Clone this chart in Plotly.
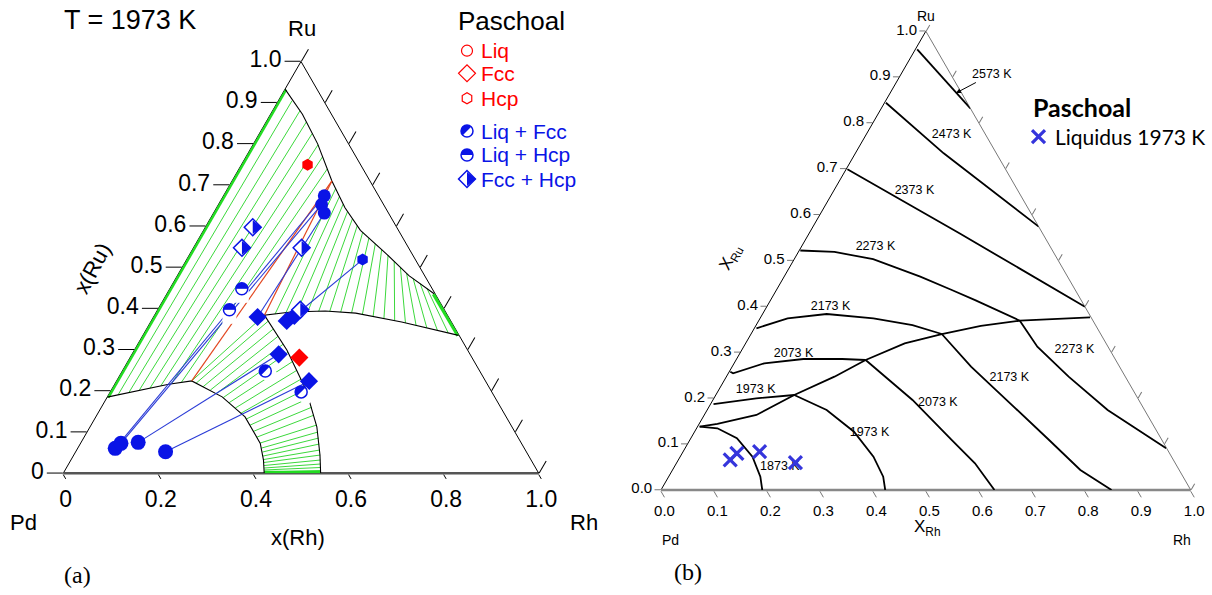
import plotly.graph_objects as go

W, H = 1212, 595
SANS = "Liberation Sans, Arial, sans-serif"
SERIF = "Liberation Serif, Times New Roman, serif"
LATO = "Lato, Open Sans, sans-serif"

BLUE = "#0a14e6"
BLUE_LINE = "#2a3bd6"
RED = "#ff0000"
RED_LINE = "#e2461f"
GREEN = "#3cd83c"
XBLUE = "#3535dc"

# ======================= Panel (a): calculated section at 1973 K (x_Rh, x_Ru) =======================
hcp_bnd_rh = [0.0, 0.067, 0.135, 0.21, 0.27, 0.33, 0.413, 0.487, 0.562]
hcp_bnd_ru = [0.933, 0.872, 0.80, 0.71, 0.645, 0.59, 0.533, 0.48, 0.436]
liq_bnd_rh = [0.0, 0.1136, 0.158, 0.2414, 0.3138, 0.378, 0.405, 0.4226]
liq_bnd_ru = [0.185, 0.2164, 0.2244, 0.1856, 0.137, 0.0727, 0.0322, 0.0]
fcc_bnd_rh = [0.664, 0.528, 0.4206, 0.354, 0.283, 0.231, 0.3212, 0.41, 0.4768, 0.5177, 0.5413]
fcc_bnd_ru = [0.335, 0.3673, 0.389, 0.394, 0.3916, 0.384, 0.2988, 0.2018, 0.113, 0.0444, 0.0]

# three-phase triangle Liq / Fcc / Hcp
tri_rh = [0.158, 0.231, 0.21]
tri_ru = [0.2244, 0.384, 0.71]

# tie lines Liq + Hcp
tl_lh_liq_rh = [0.020, 0.040, 0.059, 0.079, 0.099, 0.1185, 0.138]
tl_lh_liq_ru = [0.1905, 0.196, 0.2013, 0.2068, 0.2123, 0.2172, 0.2208]
tl_lh_hcp_rh = [0.0288, 0.0576, 0.0847, 0.111, 0.137, 0.161, 0.1857]
tl_lh_hcp_ru = [0.905, 0.880, 0.853, 0.825, 0.7975, 0.768, 0.739]

# tie lines Fcc + Hcp
tl_fh_fcc_rh = [0.252, 0.2732, 0.2954, 0.3181, 0.3405, 0.3638, 0.3877, 0.4115, 0.4362, 0.4612,
                0.4865, 0.5116, 0.5371, 0.5625, 0.5881, 0.6135, 0.6389]
tl_fh_fcc_ru = [0.3867, 0.3901, 0.3921, 0.3928, 0.3935, 0.3933, 0.3916, 0.3899, 0.386, 0.3809,
                0.3758, 0.3707, 0.3652, 0.3591, 0.353, 0.347, 0.3412]
tl_fh_hcp_rh = [0.2273, 0.2448, 0.2619, 0.2801, 0.299, 0.3176, 0.3371, 0.3573, 0.3776, 0.398,
                0.4184, 0.4387, 0.459, 0.4792, 0.4997, 0.5205, 0.5412]
tl_fh_hcp_ru = [0.6913, 0.6724, 0.6537, 0.6358, 0.6186, 0.6014, 0.5852, 0.5711, 0.5573, 0.5433,
                0.5292, 0.5147, 0.5001, 0.4856, 0.4725, 0.4604, 0.448]

# tie lines Liq + Fcc
tl_lf_liq_rh = [0.158, 0.170, 0.189, 0.2082, 0.225, 0.2445, 0.2631, 0.2824, 0.301, 0.3188, 0.3345, 0.3502,
                0.3637, 0.3773, 0.3864, 0.3934, 0.3993, 0.4046, 0.4089, 0.4129, 0.416, 0.4186, 0.421]
tl_lf_liq_ru = [0.2244, 0.2188, 0.2103, 0.2018, 0.1934, 0.1837, 0.1716, 0.1582, 0.1461, 0.1316, 0.117, 0.1025,
                0.088, 0.0734, 0.0613, 0.0516, 0.0419, 0.0334, 0.0262, 0.0189, 0.0128, 0.008, 0.0031]
tl_lf_fcc_rh = [0.231, 0.246, 0.266, 0.2854, 0.3056, 0.3257, 0.3472, 0.3664, 0.3857, 0.4084, 0.4256, 0.4428,
                0.4567, 0.474, 0.4853, 0.4943, 0.5029, 0.5112, 0.5181, 0.5246, 0.5296, 0.5341, 0.5379]
tl_lf_fcc_ru = [0.384, 0.369, 0.3497, 0.3327, 0.3133, 0.2939, 0.2721, 0.2503, 0.2285, 0.2043, 0.1825, 0.1607,
                0.1413, 0.117, 0.1001, 0.0855, 0.071, 0.0565, 0.0443, 0.0322, 0.0225, 0.0141, 0.0068]

# binary-edge two-phase segments (dense tie lines on the edges)
edge_tl_rh1 = [0.0, 0.664, 0.4226]
edge_tl_ru1 = [0.185, 0.335, 0.0]
edge_tl_rh2 = [0.0, 0.562, 0.5413]
edge_tl_ru2 = [0.933, 0.436, 0.0]

# ---- Paschoal experimental points ----
exp_liq_rh = [0.079, 0.085, 0.12, 0.189]
exp_liq_ru = [0.0606, 0.0727, 0.0751, 0.0523]
exp_hcp_rh = [0.212, 0.217, 0.233]
exp_hcp_ru = [0.674, 0.6525, 0.632]
exp_hcp2_rh = [0.370]
exp_hcp2_ru = [0.519]
exp_fcc_rh = [0.219, 0.285, 0.295, 0.3085, 0.405]
exp_fcc_ru = [0.3795, 0.370, 0.382, 0.289, 0.2236]
bulk_lf_rh = [0.3006, 0.4015]
bulk_lf_ru = [0.2486, 0.1977]
bulk_lh_rh = [0.151, 0.1515]
bulk_lh_ru = [0.397, 0.448]
bulk_fh_rh = [0.0997, 0.102, 0.2275, 0.300]
bulk_fh_ru = [0.5976, 0.5476, 0.5476, 0.397]
red_hcp_rh = [0.139]
red_hcp_ru = [0.7495]
red_fcc_rh = [0.356]
red_fcc_ru = [0.281]
exp_tl_rh1 = [0.079, 0.085, 0.12, 0.189, 0.219, 0.295]
exp_tl_ru1 = [0.0606, 0.0727, 0.0751, 0.0523, 0.3795, 0.382]
exp_tl_rh2 = [0.212, 0.217, 0.3085, 0.405, 0.233, 0.370]
exp_tl_ru2 = [0.674, 0.6525, 0.289, 0.2236, 0.632, 0.519]

ticks_a_left_vals = [0, 0.1, 0.2, 0.3, 0.4, 0.5, 0.6, 0.7, 0.8, 0.9, 1.0]
ticks_a_left_text = ["0", "0.1", "0.2", "0.3", "0.4", "0.5", "0.6", "0.7", "0.8", "0.9", "1.0"]
ticks_a_bot_vals = [0, 0.2, 0.4, 0.6, 0.8, 1.0]            # x(Pd) along the bottom edge
ticks_a_bot_text = ["1.0", "0.8", "0.6", "0.4", "0.2", "0"]  # shown as x(Rh)
legend_a_text = ["Liq", "Fcc", "Hcp", "Liq + Fcc", "Liq + Hcp", "Fcc + Hcp"]

# ======================= Panel (b): liquidus projection =======================
iso_2573_rh = [0.0034, 0.168]
iso_2573_ru = [0.9605, 0.832]
iso_2473_rh = [0.0026, 0.1668, 0.426]
iso_2473_ru = [0.844, 0.7338, 0.574]
iso_2373_rh = [0.0024, 0.2836, 0.6005]
iso_2373_ru = [0.699, 0.5595, 0.3995]
iso_2273u_rh = [0.002, 0.068, 0.149, 0.257, 0.331, 0.386, 0.4929]
iso_2273u_ru = [0.522, 0.519, 0.503, 0.465, 0.436, 0.414, 0.369]
valley_rh = [0.004, 0.0346, 0.0985, 0.148, 0.204, 0.2447, 0.3002, 0.3601, 0.4251, 0.4929, 0.6217]
valley_ru = [0.138, 0.1439, 0.1635, 0.2071, 0.247, 0.2833, 0.3197, 0.34, 0.3575, 0.369, 0.3764]
iso_2173u_rh = [0.004, 0.052, 0.121, 0.214, 0.295, 0.3601]
iso_2173u_ru = [0.3524, 0.3742, 0.3836, 0.3742, 0.3596, 0.34]
iso_2073u_rh = [0.002, 0.009, 0.057, 0.126, 0.1995, 0.2447]
iso_2073u_ru = [0.2578, 0.2543, 0.2761, 0.2855, 0.2855, 0.2833]
iso_1973u_rh = [0.0055, 0.080, 0.148]
iso_1973u_ru = [0.1874, 0.1998, 0.2071]
iso_1873_rh = [0.004, 0.0393, 0.087, 0.1364, 0.1731, 0.1912]
iso_1873_ru = [0.138, 0.1345, 0.1127, 0.0726, 0.029, 0.0]
iso_1973l_rh = [0.148, 0.2256, 0.3008, 0.3648, 0.405, 0.4233]
iso_1973l_ru = [0.2071, 0.1744, 0.1271, 0.0726, 0.029, 0.0]
iso_2073l_rh = [0.2447, 0.3767, 0.4941, 0.5636, 0.6295]
iso_2073l_ru = [0.2833, 0.1962, 0.109, 0.0582, 0.0]
iso_2173l_rh = [0.3601, 0.4509, 0.5646, 0.6781, 0.7698, 0.8505]
iso_2173l_ru = [0.34, 0.2688, 0.189, 0.109, 0.0436, 0.0]
iso_2273l_rh = [0.4929, 0.5543, 0.646, 0.7559, 0.9081]
iso_2273l_ru = [0.369, 0.3123, 0.247, 0.1744, 0.0909]

iso_label_text = ["2473 K", "2373 K", "2273 K", "2173 K", "2073 K", "1973 K", "1873 K",
                  "1973 K", "2073 K", "2173 K", "2273 K"]
iso_label_rh = [0.1617, 0.1524, 0.1404, 0.1204, 0.102, 0.0698, 0.1997, 0.3313, 0.4282, 0.5351, 0.6279]
iso_label_ru = [0.7738, 0.6523, 0.529, 0.3995, 0.2964, 0.218, 0.0495, 0.1249, 0.189, 0.2448, 0.3051]

liquidus_rh = [0.098, 0.1033, 0.1444, 0.224]
liquidus_ru = [0.0654, 0.08, 0.0835, 0.0595]

ticks_b_vals = [0, 0.1, 0.2, 0.3, 0.4, 0.5, 0.6, 0.7, 0.8, 0.9, 1.0]
ticks_b_left_text = ["0.0", "0.1", "0.2", "0.3", "0.4", "0.5", "0.6", "0.7", "0.8", "0.9", "1.0"]
ticks_b_bot_text = ["1.0", "0.9", "0.8", "0.7", "0.6", "0.5", "0.4", "0.3", "0.2", "0.1", "0.0"]


# ======================= helpers =======================
def tern(rh, ru):
    b = [None if (h is None or u is None) else 1.0 - h - u for h, u in zip(rh, ru)]
    return dict(a=list(ru), b=b, c=list(rh))


def segs(rh1, ru1, rh2, ru2):
    RH, RU = [], []
    for p, q, r, s in zip(rh1, ru1, rh2, ru2):
        RH += [p, r, None]
        RU += [q, s, None]
    return RH, RU


def line_tr(rh, ru, color, width, sub, clip=True):
    return go.Scatterternary(**tern(rh, ru), mode="lines", line=dict(color=color, width=width),
                             subplot=sub, hoverinfo="skip", showlegend=False, cliponaxis=clip)


def make_tern(sub):
    def f(coords, marker):
        rh, ru = coords
        return go.Scatterternary(**tern(rh, ru), mode="markers", marker=marker, subplot=sub,
                                 cliponaxis=False, hoverinfo="skip", showlegend=False)
    return f


def make_cart(coords, marker):
    x, y = coords
    return go.Scatter(x=x, y=y, mode="markers", marker=marker, xaxis="x", yaxis="y",
                      cliponaxis=False, hoverinfo="skip", showlegend=False)


def half_circle(make, coords, size, cover_angle, color):
    return [
        make(coords, dict(symbol="circle", size=size, color=color, line=dict(width=0))),
        make(coords, dict(symbol="square", size=size + 2, color="white", angle=cover_angle,
                          standoff=(size + 2) / 2, line=dict(width=0))),
        make(coords, dict(symbol="circle-open", size=size, color=color, line=dict(width=1.5, color=color))),
    ]


def half_diamond(make, coords, size, color):
    t = 0.92 * size
    return [
        make(coords, dict(symbol="diamond", size=size, color="white", line=dict(width=1.5, color=color))),
        make(coords, dict(symbol="triangle-down", size=t, color=color, angle=270, standoff=t / 4,
                          line=dict(width=0))),
    ]


traces = []
SA = "ternary"
SB = "ternary2"
ta = make_tern(SA)
tb = make_tern(SB)

# ---- panel (a) tie lines ----
for fam in [(tl_lh_liq_rh, tl_lh_liq_ru, tl_lh_hcp_rh, tl_lh_hcp_ru),
            (tl_fh_fcc_rh, tl_fh_fcc_ru, tl_fh_hcp_rh, tl_fh_hcp_ru),
            (tl_lf_liq_rh, tl_lf_liq_ru, tl_lf_fcc_rh, tl_lf_fcc_ru)]:
    rh, ru = segs(*fam)
    traces.append(line_tr(rh, ru, GREEN, 1, SA))
rh, ru = segs(edge_tl_rh1, edge_tl_ru1, edge_tl_rh2, edge_tl_ru2)
traces.append(line_tr(rh, ru, "#22dd22", 5, SA, clip=False))

# ---- panel (a) phase boundaries ----
for rh, ru in [(hcp_bnd_rh, hcp_bnd_ru), (liq_bnd_rh, liq_bnd_ru), (fcc_bnd_rh, fcc_bnd_ru)]:
    traces.append(line_tr(rh, ru, "black", 1.1, SA))
rh, ru = segs([tri_rh[0], tri_rh[1]], [tri_ru[0], tri_ru[1]], [tri_rh[2], tri_rh[2]], [tri_ru[2], tri_ru[2]])
traces.append(line_tr(rh, ru, RED_LINE, 1.2, SA))

# ---- panel (a) experimental tie lines + points ----
rh, ru = segs(exp_tl_rh1, exp_tl_ru1, exp_tl_rh2, exp_tl_ru2)
traces.append(line_tr(rh, ru, BLUE_LINE, 1.1, SA))
traces.append(ta((exp_liq_rh, exp_liq_ru), dict(symbol="circle", size=15, color=BLUE)))
traces.append(ta((exp_hcp_rh, exp_hcp_ru), dict(symbol="circle", size=13, color=BLUE)))
traces.append(ta((exp_hcp2_rh, exp_hcp2_ru), dict(symbol="hexagon", size=12, color=BLUE)))
traces.append(ta((exp_fcc_rh, exp_fcc_ru), dict(symbol="diamond", size=14, color=BLUE)))
traces += half_circle(ta, (bulk_lf_rh, bulk_lf_ru), 12, 315, BLUE)
traces += half_circle(ta, (bulk_lh_rh, bulk_lh_ru), 12, 0, BLUE)
traces += half_diamond(ta, (bulk_fh_rh, bulk_fh_ru), 13, BLUE)
traces.append(ta((red_hcp_rh, red_hcp_ru), dict(symbol="hexagon", size=12, color=RED)))
traces.append(ta((red_fcc_rh, red_fcc_ru), dict(symbol="diamond", size=14, color=RED)))

# ---- panel (a) legend keys (positioned in page pixels on a hidden helper axis) ----
leg_x = 467
leg_rows = [50.7, 73.3, 98.3, 131, 155, 179]
traces.append(make_cart(([leg_x], [leg_rows[0]]), dict(symbol="circle-open", size=11, color=RED, line=dict(width=1.2))))
traces.append(make_cart(([leg_x], [leg_rows[1]]), dict(symbol="diamond-open", size=13, color=RED, line=dict(width=1.2))))
traces.append(make_cart(([leg_x], [leg_rows[2]]), dict(symbol="hexagon-open", size=11, color=RED, line=dict(width=1.2))))
traces += half_circle(make_cart, ([leg_x], [leg_rows[3]]), 12, 315, BLUE)
traces += half_circle(make_cart, ([leg_x], [leg_rows[4]]), 12, 0, BLUE)
traces += half_diamond(make_cart, ([leg_x], [leg_rows[5]]), 13, BLUE)

# ---- panel (b) isotherms ----
for rh, ru in [(iso_2573_rh, iso_2573_ru), (iso_2473_rh, iso_2473_ru), (iso_2373_rh, iso_2373_ru),
               (iso_2273u_rh, iso_2273u_ru), (valley_rh, valley_ru), (iso_2173u_rh, iso_2173u_ru),
               (iso_2073u_rh, iso_2073u_ru), (iso_1973u_rh, iso_1973u_ru), (iso_1873_rh, iso_1873_ru),
               (iso_1973l_rh, iso_1973l_ru), (iso_2073l_rh, iso_2073l_ru), (iso_2173l_rh, iso_2173l_ru),
               (iso_2273l_rh, iso_2273l_ru)]:
    traces.append(line_tr(rh, ru, "black", 1.8, SB))
traces.append(go.Scatterternary(**tern(iso_label_rh, iso_label_ru), mode="text", text=iso_label_text,
                                textfont=dict(family=SANS, size=12.5, color="black"), subplot=SB,
                                cliponaxis=False, hoverinfo="skip", showlegend=False))
xmark = dict(symbol="x-thin-open", size=13, color=XBLUE, line=dict(width=3.2, color=XBLUE))
traces.append(tb((liquidus_rh, liquidus_ru), xmark))
traces.append(make_cart(([1038.5], [136.7]), xmark))


def axis(vals, text, size, ticklen, show_labels=True, linecolor="black", linewidth=1, tickcolor="black"):
    return dict(tickmode="array", tickvals=vals, ticktext=text, showticklabels=show_labels,
                ticks="outside", ticklen=ticklen, tickwidth=1, tickcolor=tickcolor,
                tickfont=dict(family=SANS, size=size, color="black"),
                showline=True, linecolor=linecolor, linewidth=linewidth, showgrid=False,
                layer="below traces", title=dict(text=""))


def ann(text, X, Y, size, family=SANS, color="black", xanchor="center", angle=0):
    return dict(text=text, x=X / W, y=1 - Y / H, xref="paper", yref="paper", showarrow=False,
                font=dict(family=family, size=size, color=color), xanchor=xanchor, yanchor="middle",
                textangle=angle)


annotations = [
    ann("T = 1973 K", 130, 20, 27),
    ann("Ru", 302, 28, 22),
    ann("Pd", 23, 522, 22),
    ann("Rh", 584, 522, 22),
    ann("x(Rh)", 298, 537, 22),
    ann("x(Ru)", 92, 268, 22, angle=-62),
    ann("(a)", 77, 575, 24, family=SERIF),
    ann("Paschoal", 511, 21, 26),
]
leg_colors = [RED, RED, RED, BLUE, BLUE, BLUE]
for txt, yrow, col in zip(legend_a_text, leg_rows, leg_colors):
    annotations.append(ann(txt, 479, yrow, 21, color=col, xanchor="left"))
annotations += [
    ann("Ru", 926, 16, 14),
    ann("Pd", 670, 540, 14),
    ann("Rh", 1182, 540, 14),
    ann("X<sub>Ru</sub>", 731, 258, 17, angle=-62),
    ann("X<sub>Rh</sub>", 927, 528, 17),
    ann("(b)", 688, 572, 24, family=SERIF),
    ann("<b>Paschoal</b>", 1031, 107, 25, family=LATO, xanchor="left"),
    ann("Liquidus 1973 K", 1053, 137, 21, family=LATO, xanchor="left"),
    dict(text="2573 K", x=956 / W, y=1 - 93 / H, xref="paper", yref="paper", showarrow=True,
         ax=36, ay=-19, arrowhead=2, arrowsize=1, arrowwidth=1, arrowcolor="black",
         font=dict(family=SANS, size=12.5, color="black")),
]

fig = go.Figure(data=traces)
fig.update_layout(
    template="none",
    width=W, height=H,
    margin=dict(l=0, r=0, t=0, b=0),
    paper_bgcolor="white", plot_bgcolor="rgba(0,0,0,0)",
    showlegend=False,
    xaxis=dict(domain=[0, 1], range=[0, W], visible=False, fixedrange=True),
    yaxis=dict(domain=[0, 1], range=[H, 0], visible=False, fixedrange=True),
    ternary=dict(
        domain=dict(x=[62.7 / W, 539.3 / W], y=[1 - 473.3 / H, 1 - 61.5 / H]),
        sum=1, bgcolor="white",
        aaxis=axis(ticks_a_left_vals, ticks_a_left_text, 23, 16),
        baxis=axis(ticks_a_bot_vals, ticks_a_bot_text, 23, 5, linecolor="#555555", linewidth=2.5),
        caxis=axis(ticks_a_left_vals, ticks_a_left_text, 23, 14, show_labels=False),
    ),
    ternary2=dict(
        domain=dict(x=[660.7 / W, 1191 / W], y=[1 - 490 / H, 1 - 31.2 / H]),
        sum=1, bgcolor="white",
        aaxis=axis(ticks_b_vals, ticks_b_left_text, 15, 6, tickcolor="#777777"),
        baxis=axis(ticks_b_vals, ticks_b_bot_text, 15, 7, linecolor="#888888", linewidth=2.5,
                   tickcolor="#777777"),
        caxis=axis(ticks_b_vals, ticks_b_left_text, 15, 7, show_labels=False, linecolor="#777777",
                   tickcolor="#777777"),
    ),
    annotations=annotations,
)

fig.write_html("out.html", config={"displayModeBar": False},
               post_script="document.body.style.margin='0';document.body.style.padding='0';")
